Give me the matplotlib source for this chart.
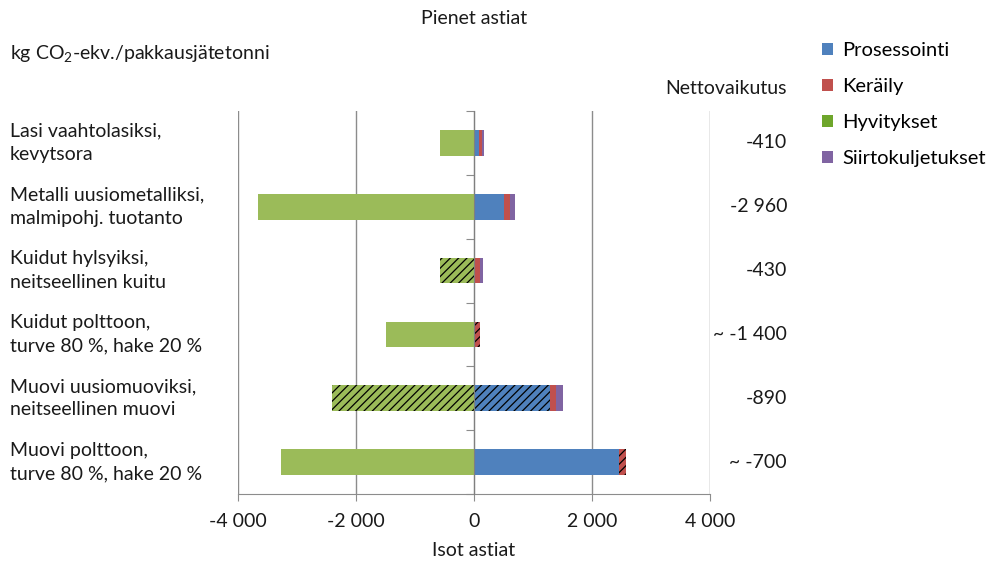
import numpy as np
import matplotlib.pyplot as plt
from matplotlib.patches import Patch
from matplotlib.transforms import blended_transform_factory

plt.rcParams['font.family'] = ['Lato', 'DejaVu Sans']
plt.rcParams['hatch.linewidth'] = 0.9

categories = [
    'Lasi vaahtolasiksi,\nkevytsora',
    'Metalli uusiometalliksi,\nmalmipohj. tuotanto',
    'Kuidut hylsyiksi,\nneitseellinen kuitu',
    'Kuidut polttoon,\nturve 80 %, hake 20 %',
    'Muovi uusiomuoviksi,\nneitseellinen muovi',
    'Muovi polttoon,\nturve 80 %, hake 20 %',
]
series = ['Prosessointi', 'Keräily', 'Hyvitykset', 'Siirtokuljetukset']
prosessointi = [85, 510, 0, 0, 1290, 2450]
keraily = [50, 100, 100, 100, 100, 120]
hyvitykset = [-575, -3655, -580, -1500, -2400, -3270]
siirtokuljetukset = [30, 85, 50, 0, 120, 0]
approx = [False, False, False, True, False, True]

# hatched segments (series -> categories)
hatched = {
    'Prosessointi': [4],
    'Keräily': [3, 5],
    'Hyvitykset': [2, 4],
    'Siirtokuljetukset': [],
}

colors = {'Prosessointi': '#4F81BD', 'Keräily': '#C0504D',
          'Hyvitykset': '#9BBB59', 'Siirtokuljetukset': '#8064A2'}
legend_colors = ['#4F81BD', '#C0504D', '#6EA62B', '#8064A2']
xticks = [-4000, -2000, 0, 2000, 4000]

txt = '#1a1a1a'
grid = '#8c8c8c'

fig = plt.figure(figsize=(9.92, 5.63), dpi=100)
ax = fig.add_axes([238 / 992, 1 - 494 / 563, 472 / 992, 383 / 563])

y = np.arange(len(categories))
h = 0.4

def draw(name, vals, left):
    for i, (v, l) in enumerate(zip(vals, left)):
        if v == 0:
            continue
        ax.barh(y[i], v, left=l, height=h, color=colors[name],
                edgecolor='black', linewidth=0,
                hatch='////' if i in hatched[name] else None, zorder=3)

pos = np.zeros(len(categories))
for name, vals in [('Prosessointi', prosessointi), ('Keräily', keraily),
                   ('Siirtokuljetukset', siirtokuljetukset)]:
    draw(name, vals, pos)
    pos = pos + np.array(vals)
draw('Hyvitykset', hyvitykset, np.zeros(len(categories)))

net = np.array(prosessointi) + np.array(keraily) + np.array(hyvitykset) + np.array(siirtokuljetukset)

ax.set_xlim(-4000, 4000)
ax.set_ylim(len(categories) - 0.5, -0.5)
ax.set_xticks(xticks)
ax.set_xticklabels([f'{t:,}'.replace(',', ' ') for t in xticks], fontsize=14, color=txt)
ax.xaxis.grid(True, color=grid, linewidth=1, zorder=0)
ax.tick_params(axis='x', length=5, color=grid, pad=9)

# category axis sits on the zero line
ax.spines['left'].set_position(('data', 0))
ax.spines['left'].set_color('#7f7f7f')
ax.spines['left'].set_zorder(4)
ax.set_yticks(np.arange(len(categories) + 1) - 0.5)
ax.set_yticklabels([])
ax.tick_params(axis='y', length=6, color=grid, direction='out')
for s in ['top', 'right']:
    ax.spines[s].set_visible(False)
ax.spines['bottom'].set_color(grid)

tr = blended_transform_factory(fig.transFigure, ax.transData)
for i, c in enumerate(categories):
    ax.text(10 / 992, y[i], c, transform=tr, ha='left', va='center',
            fontsize=14, color=txt, linespacing=1.45)
    s = f'{int(net[i]):,}'.replace(',', ' ')
    if approx[i]:
        s = '~ ' + s
    ax.text(787 / 992, y[i], s, transform=tr, ha='right', va='center',
            fontsize=14, color=txt)

fig.text(787 / 992, 1 - 89 / 563, 'Nettovaikutus', ha='right', va='center',
         fontsize=14, color=txt)
fig.text(474 / 992, 1 - 18 / 563, 'Pienet astiat', ha='center', va='center',
         fontsize=14, color=txt)
fig.text(10 / 992, 1 - 53 / 563, r'kg CO$\mathregular{_2}$-ekv./pakkausjätetonni', ha='left',
         va='center', fontsize=14, color=txt)
fig.text(474 / 992, 1 - 550 / 563, 'Isot astiat', ha='center', va='center',
         fontsize=14, color=txt)

handles = [Patch(facecolor=c, edgecolor='none') for c in legend_colors]
fig.legend(handles, series, loc='upper left', bbox_to_anchor=(822 / 992, 1 - 42 / 563),
           frameon=False, fontsize=14.5, handlelength=0.55, handleheight=0.55,
           handletextpad=0.45, labelspacing=0.95, borderaxespad=0, borderpad=0)

fig.savefig('out.png', dpi=100)
